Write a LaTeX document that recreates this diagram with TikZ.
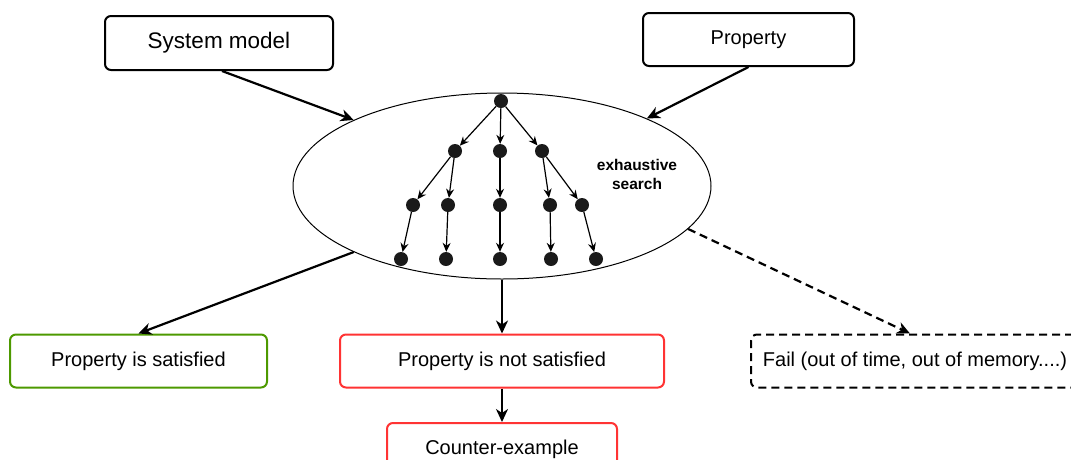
\documentclass[tikz,border=0pt]{standalone}
\usepackage{fontspec}
\setmainfont{Liberation Sans}
\usetikzlibrary{shapes.geometric,arrows.meta}
\definecolor{okgreen}{HTML}{4D9900}
\definecolor{badred}{HTML}{FF3333}
\definecolor{dotc}{HTML}{1A1A1A}
\tikzset{
  box/.style={draw, rounded corners=6pt, line width=2pt, font=\fontsize{20}{24}\selectfont, inner sep=0pt},
  mainarrow/.style={line width=2.2pt, -{Stealth[length=13pt,width=12pt,inset=4pt]}},
  treearrow/.style={line width=1.2pt, -{Stealth[length=9pt,width=8pt,inset=3pt]}},
  dot/.style={circle, fill=dotc, draw=none, minimum size=14pt, inner sep=0pt},
}
\begin{document}
\begin{tikzpicture}[x=1pt,y=-1pt]
\useasboundingbox (0,0) rectangle (1071,459);
% boxes
\node[box, minimum width=228pt, minimum height=54pt] (sys) at (219,43) {\fontsize{22.5}{26}\selectfont System model};
\node[box, minimum width=211pt, minimum height=53pt] (prop) at (748.5,39.5) {Property};
\node[draw, ellipse, line width=1pt, minimum width=418pt, minimum height=186pt, inner sep=0pt] (ell) at (502,186) {};
\node[box, draw=okgreen, minimum width=257pt, minimum height=53pt] (sat) at (138.5,361) {Property is satisfied};
\node[box, draw=badred, minimum width=324pt, minimum height=53pt] (nsat) at (502,361) {Property is not satisfied};
\node[box, dash pattern=on 8pt off 5pt, minimum width=328pt, minimum height=53pt] (fail) at (915,361) {Fail (out of time, out of memory....)};
\node[box, draw=badred, minimum width=230pt, minimum height=53pt] (cex) at (502,449.5) {Counter-example};
% text
\node[font=\fontsize{15.5}{19}\selectfont\bfseries, align=center] (ex) at (637,174) {exhaustive\\search};
% tree
\node[dot] (r) at (501,101) {};
\node[dot] (a1) at (455,151) {};
\node[dot] (a2) at (500,151) {};
\node[dot] (a3) at (542,151) {};
\node[dot] (b1) at (413,205) {};
\node[dot] (b2) at (448,205) {};
\node[dot] (b3) at (500,205) {};
\node[dot] (b4) at (550,205) {};
\node[dot] (b5) at (582,205) {};
\node[dot] (c1) at (401,259) {};
\node[dot] (c2) at (446,259) {};
\node[dot] (c3) at (500,259) {};
\node[dot] (c4) at (551,259) {};
\node[dot] (c5) at (596,259) {};
\draw[treearrow] (r) -- (a1);
\draw[treearrow] (r) -- (a2);
\draw[treearrow] (r) -- (a3);
\draw[treearrow] (a1) -- (b1);
\draw[treearrow] (a1) -- (b2);
\draw[treearrow] (a2) -- (b3);
\draw[treearrow] (a3) -- (b4);
\draw[treearrow] (a3) -- (b5);
\draw[treearrow] (b1) -- (c1);
\draw[treearrow] (b2) -- (c2);
\draw[treearrow] (b3) -- (c3);
\draw[treearrow] (b4) -- (c4);
\draw[treearrow] (b5) -- (c5);
% main arrows
\draw[mainarrow] ([xshift=3pt]sys.south) -- (ell.156);
\draw[mainarrow] (prop.south) -- (ell.25);
\draw[mainarrow] (ell.204) -- (sat.north);
\draw[mainarrow] (ell.south) -- (nsat.north);
\draw[mainarrow, dash pattern=on 8pt off 5pt] (ell.-13) -- ([xshift=-5pt]fail.north);
\draw[mainarrow] (nsat.south) -- (cex.north);
\end{tikzpicture}
\end{document}
